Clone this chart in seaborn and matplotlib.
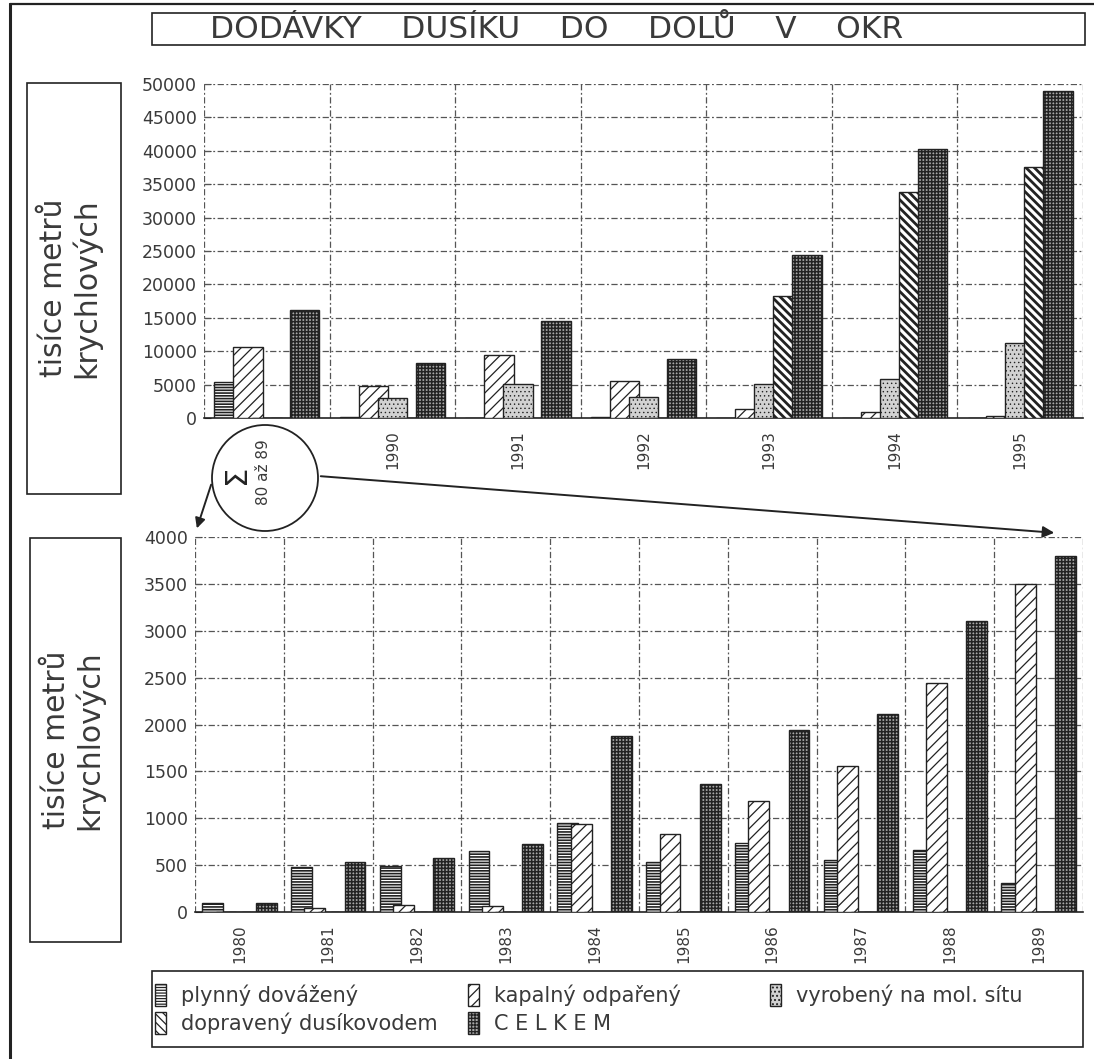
import numpy as np
import pandas as pd
import matplotlib
matplotlib.use("Agg")
import matplotlib.pyplot as plt
import seaborn as sns
from matplotlib.patches import Rectangle, Ellipse, FancyArrowPatch
from matplotlib.lines import Line2D

# ---------------- data ----------------
series = ["plynný dovážený", "kapalný odpařený", "vyrobený na mol. sítu",
          "dopravený dusíkovodem", "C E L K E M"]

top_cats = ["Σ 80-89", "1990", "1991", "1992", "1993", "1994", "1995"]
top_ticklabels = ["", "1990", "1991", "1992", "1993", "1994", "1995"]
top_plynny = [5450, 200, 0, 100, 0, 0, 0]
top_kapalny = [10650, 4800, 9400, 5600, 1400, 900, 300]
top_vyrobeny = [0, 3000, 5100, 3100, 5100, 5800, 11200]
top_dopraveny = [0, 0, 0, 0, 18200, 33800, 37500]
top_celkem = [16200, 8300, 14500, 8900, 24400, 40300, 48900]

bot_cats = ["1980", "1981", "1982", "1983", "1984", "1985", "1986", "1987", "1988", "1989"]
bot_plynny = [95, 480, 490, 650, 950, 535, 740, 555, 665, 305]
bot_kapalny = [0, 45, 80, 65, 935, 835, 1180, 1555, 2445, 3500]
bot_vyrobeny = [0, 0, 0, 0, 0, 0, 0, 0, 0, 0]
bot_dopraveny = [0, 0, 0, 0, 0, 0, 0, 0, 0, 0]
bot_celkem = [100, 530, 580, 730, 1875, 1365, 1940, 2110, 3105, 3800]

top_yticks = list(range(0, 50001, 5000))
bot_yticks = list(range(0, 4001, 500))

title = "DODÁVKY    DUSÍKU    DO    DOLŮ    V    OKR"
ylabel = "tisíce metrů\nkrychlových"
sigma_text = "Σ"
sigma_sub = "80 až 89"


def long_df(cats, cols):
    rows = []
    for s, vals in zip(series, cols):
        for c, v in zip(cats, vals):
            rows.append({"cat": c, "series": s, "value": v})
    return pd.DataFrame(rows)


df_top = long_df(top_cats, [top_plynny, top_kapalny, top_vyrobeny, top_dopraveny, top_celkem])
df_bot = long_df(bot_cats, [bot_plynny, bot_kapalny, bot_vyrobeny, bot_dopraveny, bot_celkem])

# ---------------- style ----------------
sns.set_theme(style="white")
plt.rcParams["font.family"] = ["DejaVu Sans"]
plt.rcParams["hatch.linewidth"] = 0.9
plt.rcParams["hatch.color"] = "#111111"

ink = "#222222"
txt = "#3a3a3a"
faces = ["white", "white", "#d2d2d2", "white", "#a8a8a8"]
hatches = ["------", "///", "....", "\\\\\\\\", "+++++"]
hatch_lw = [1.2, 0.9, 0.5, 2.0, 1.1]
BAR_W = 0.235

W, H = 1094, 1059
fig = plt.figure(figsize=(W / 100, H / 100), dpi=100)


def fx(px):
    return px / W


def fy(py):
    return 1 - py / H


def make_axes(left, right, top, bottom):
    return fig.add_axes([fx(left), fy(bottom), fx(right) - fx(left), fy(top) - fy(bottom)])


ax_top = make_axes(204, 1083, 84, 418)
ax_bot = make_axes(195, 1083, 537, 912)


def style_bars(containers):
    for i, cont in enumerate(containers):
        for bar in cont:
            c = bar.get_x() + bar.get_width() / 2
            bar.set_x(c - BAR_W / 2)
            bar.set_width(BAR_W)
            bar.set_facecolor(faces[i])
            bar.set_hatch(hatches[i])
            bar.set_edgecolor(ink)
            bar.set_zorder(3)
            if hasattr(bar, "set_hatch_linewidth"):
                bar.set_hatch_linewidth(hatch_lw[i])


def draw(ax, df, cats, ticklabels, yticks):
    sns.barplot(data=df, x="cat", y="value", hue="series", hue_order=series,
                order=cats, width=0.755, dodge=True, ax=ax, legend=False,
                saturation=1, palette=["white"] * 5, edgecolor=ink,
                linewidth=1.0, errorbar=None)
    style_bars(ax.containers)
    n = len(cats)
    ax.set_xlim(-0.5, n - 0.5)
    ax.set_ylim(0, yticks[-1])
    ax.set_yticks(yticks)
    ax.set_yticklabels([str(t) for t in yticks], fontsize=12.5, color=txt)
    ax.set_xticks(range(n))
    ax.set_xticklabels(ticklabels, rotation=90, fontsize=11, color=txt)
    ax.set_xlabel("")
    ax.set_ylabel("")
    dash = (0, (5, 2, 1.5, 2))
    for t in yticks[1:]:
        ax.axhline(t, color="#555555", lw=0.9, ls=dash, zorder=1)
    for b in np.arange(-0.5, n, 1.0):
        ax.axvline(b, color="#555555", lw=0.9, ls=dash, zorder=1)
    for s in ["top", "right", "left"]:
        ax.spines[s].set_visible(False)
    ax.spines["bottom"].set_color(ink)
    ax.spines["bottom"].set_linewidth(1.2)
    ax.tick_params(axis="y", which="major", length=5, width=0.8, color=ink,
                   direction="in", pad=5, left=True)
    ax.tick_params(axis="x", length=0, pad=9)
    ax.patch.set_alpha(0)


draw(ax_top, df_top, top_cats, top_ticklabels, top_yticks)
draw(ax_bot, df_bot, bot_cats, bot_cats, bot_yticks)


# ---------------- frame, boxes, texts ----------------
def box(x0, y0, x1, y1, lw=1.2):
    fig.add_artist(Rectangle((fx(x0), fy(y1)), fx(x1) - fx(x0), fy(y0) - fy(y1),
                             transform=fig.transFigure, fill=False,
                             edgecolor=ink, lw=lw))


# outer frame lines
fig.add_artist(Line2D([fx(10), fx(10)], [fy(4), fy(1059)], transform=fig.transFigure,
                      color=ink, lw=2.2))
fig.add_artist(Line2D([fx(10), fx(1094)], [fy(4), fy(4)], transform=fig.transFigure,
                      color=ink, lw=1.6))

# title
box(152, 13, 1085, 45)
fig.text(fx(210), fy(29.5), title, fontsize=22.5, color=txt,
         ha="left", va="center")

# y label boxes
box(27, 83, 121, 494)
fig.text(fx(70), fy(288), ylabel, rotation=90, fontsize=21.5, color=txt,
         ha="center", va="center", multialignment="center", linespacing=1.1)
box(30, 538, 121, 942)
fig.text(fx(73), fy(740), ylabel, rotation=90, fontsize=21.5, color=txt,
         ha="center", va="center", multialignment="center", linespacing=1.1)

# circle with sigma
r = 53
fig.add_artist(Ellipse((fx(265), fy(478)), 2 * r / W, 2 * r / H,
                       transform=fig.transFigure, fill=False, edgecolor=ink, lw=1.3))
fig.text(fx(236), fy(474), sigma_text, rotation=90, fontsize=22, color=ink,
         ha="center", va="center")
fig.text(fx(263), fy(472), sigma_sub, rotation=90, fontsize=11, color=txt,
         ha="center", va="center")

# arrows
fig.add_artist(FancyArrowPatch((fx(212), fy(482)), (fx(196), fy(531)),
                               transform=fig.transFigure, arrowstyle="-|>",
                               mutation_scale=15, color=ink, lw=1.4))
fig.add_artist(FancyArrowPatch((fx(318), fy(476)), (fx(1057), fy(533)),
                               transform=fig.transFigure, arrowstyle="-|>",
                               mutation_scale=17, color=ink, lw=1.4))

# legend (frame + three columns)
box(152, 971, 1083, 1047)
columns = [([0, 3], 155), ([1, 4], 468), ([2], 770)]
for idx, x0 in columns:
    lg = fig.legend([ax_top.containers[i] for i in idx], [series[i] for i in idx],
                    loc="upper left", bbox_to_anchor=(fx(x0), fy(984)),
                    frameon=False, fontsize=15, handlelength=0.55,
                    handleheight=1.25, handletextpad=0.7, labelspacing=0.3,
                    borderpad=0, borderaxespad=0)
    for t in lg.get_texts():
        t.set_color(txt)

fig.savefig("out.png", dpi=100)
